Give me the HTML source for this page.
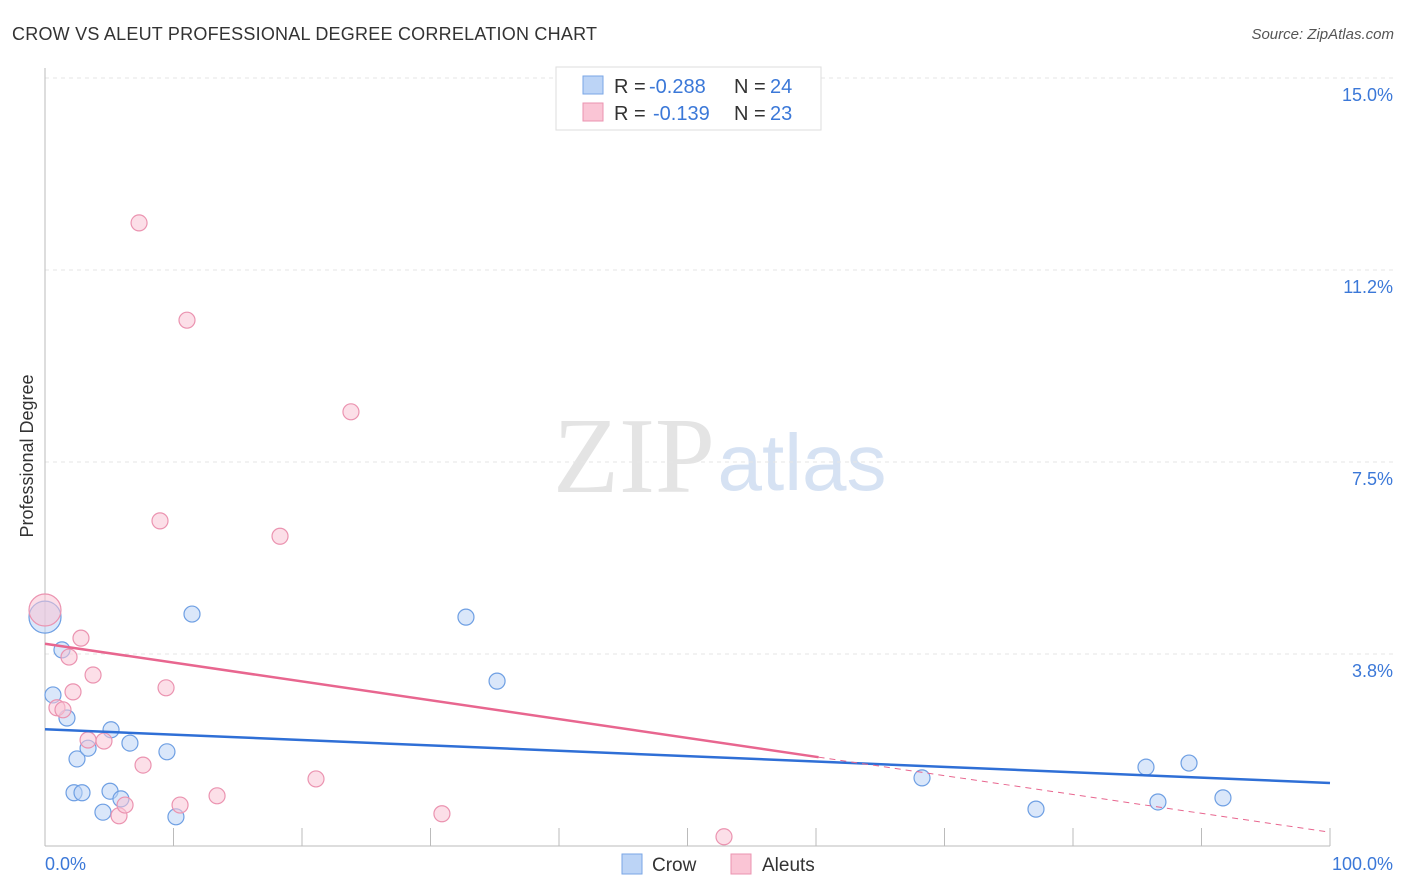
<!DOCTYPE html>
<html><head><meta charset="utf-8"><style>
body{margin:0;background:#fff;font-family:"Liberation Sans",sans-serif;}
svg{display:block}
</style></head><body>
<svg id="chart" width="1406" height="892" xmlns="http://www.w3.org/2000/svg">
<text x="12" y="40" font-size="18" fill="#333" textLength="585">CROW VS ALEUT PROFESSIONAL DEGREE CORRELATION CHART</text>
<text x="1394" y="39" font-size="15" fill="#555" font-style="italic" text-anchor="end">Source: ZipAtlas.com</text>
<text x="634" y="492" font-size="108" fill="#e4e4e4" font-family="Liberation Serif,serif" text-anchor="middle">ZIP</text>
<text x="802" y="490" font-size="80" fill="#d6e2f3" text-anchor="middle">atlas</text>
<g id="grid"></g><g id="marks"></g>
<text transform="translate(33,456) rotate(-90)" font-size="18" fill="#333" text-anchor="middle">Professional Degree</text>
<text x="45" y="870" font-size="18" fill="#3b78d8">0.0%</text>
<text x="1393" y="870" font-size="18" fill="#3b78d8" text-anchor="end">100.0%</text>
<g>
<rect x="556" y="67" width="265" height="63" fill="#fff" stroke="#ddd"/>
<rect x="583" y="76" width="20" height="18" fill="#bcd4f6" stroke="#7aa6e6"/>
<rect x="583" y="103" width="20" height="18" fill="#fac5d5" stroke="#eb93b0"/>
<text x="614" y="93" font-size="20" fill="#333">R = <tspan fill="#3b78d8" x="649">-0.288</tspan><tspan x="734">N = </tspan><tspan fill="#3b78d8" x="770">24</tspan></text>
<text x="614" y="120" font-size="20" fill="#333">R = <tspan fill="#3b78d8" x="653">-0.139</tspan><tspan x="734">N = </tspan><tspan fill="#3b78d8" x="770">23</tspan></text>
</g>
<g>
<rect x="622" y="854" width="20" height="20" fill="#bcd4f6" stroke="#7aa6e6"/>
<text x="652" y="871" font-size="19" fill="#333">Crow</text>
<rect x="731" y="854" width="20" height="20" fill="#fac5d5" stroke="#eb93b0"/>
<text x="762" y="871" font-size="19" fill="#333">Aleuts</text>
</g>
</svg>
<script>
const yTicks=[3.75,7.5,11.25,15];
const yTickLabels=["3.8%","7.5%","11.2%","15.0%"];
const xTicks=[10,20,30,40,50,60,70,80,90,100];
const crowX=[0,0.62,1.32,1.71,2.49,2.26,2.88,3.35,4.51,5.06,5.14,5.91,6.61,9.49,10.19,11.44,32.76,35.18,68.25,77.12,85.68,86.61,89.03,91.67];
const crowY=[4.47,2.95,3.83,2.50,1.70,1.04,1.04,1.91,0.66,1.07,2.27,0.92,2.01,1.84,0.57,4.53,4.47,3.22,1.33,0.72,1.54,0.86,1.62,0.94];
const aleutX=[0,0.93,1.40,1.87,2.18,2.80,3.35,3.74,4.59,5.76,6.23,7.32,7.63,8.95,9.42,10.51,11.05,13.39,18.29,21.09,23.81,30.89,52.84];
const aleutY=[4.61,2.70,2.66,3.69,3.01,4.06,2.07,3.34,2.05,0.59,0.80,12.17,1.58,6.35,3.09,0.80,10.27,0.98,6.05,1.31,8.48,0.63,0.18];
const crowTrend=[2.28,1.23];
const aleutTrend=[3.95,0.27];
const aleutSolidEnd=60.2;
const X=v=>45+v*12.85, Y=v=>846-v*51.2;
const NS="http://www.w3.org/2000/svg";
const grid=document.getElementById('grid'), marks=document.getElementById('marks');
function mk(tag,attrs,parent){const e=document.createElementNS(NS,tag);for(const k in attrs)e.setAttribute(k,attrs[k]);parent.appendChild(e);return e;}
yTicks.forEach((t,i)=>{
 const l=mk('line',{x1:45,x2:1394,y1:Y(t),y2:Y(t),stroke:'#e6e6e6','stroke-dasharray':'4,4'},grid);
 
 
 const tx=mk('text',{x:1393,y:Y(t)+23,'font-size':18,fill:'#3b78d8','text-anchor':'end'},grid);
 tx.textContent=yTickLabels[i];
 
 
});
const ax=mk('line',{x1:45,x2:45,y1:68,y2:846,stroke:'#bbb'},grid);


const bx=mk('line',{x1:45,x2:1330,y1:846,y2:846,stroke:'#bbb'},grid);


xTicks.forEach(t=>{
 const l=mk('line',{x1:X(t),x2:X(t),y1:828,y2:846,stroke:'#bbb'},grid);
 
 
});
function pts(xs,ys,fill,stroke,name){
 xs.forEach((x,i)=>{
  const c=mk('circle',{cx:X(x),cy:Y(ys[i]),r:i===0?16:8,fill:fill,'fill-opacity':0.55,stroke:stroke,'stroke-width':1.2},marks);
  
  
 });
}
pts(crowX,crowY,'#bcd4f6','#6e9fe3','crow-point');
pts(aleutX,aleutY,'#fac5d5','#eb93b0','aleut-point');
const at=v=>aleutTrend[0]+(aleutTrend[1]-aleutTrend[0])*v/100;
const l1=mk('line',{x1:X(0),y1:Y(crowTrend[0]),x2:X(100),y2:Y(crowTrend[1]),stroke:'#2f6fd6','stroke-width':2.5},marks);


const l2=mk('line',{x1:X(0),y1:Y(at(0)),x2:X(aleutSolidEnd),y2:Y(at(aleutSolidEnd)),stroke:'#e8668f','stroke-width':2.5},marks);


const l3=mk('line',{x1:X(aleutSolidEnd),y1:Y(at(aleutSolidEnd)),x2:X(100),y2:Y(at(100)),stroke:'#e8668f','stroke-width':1,'stroke-dasharray':'6,5'},marks);


</script>
</body></html>
